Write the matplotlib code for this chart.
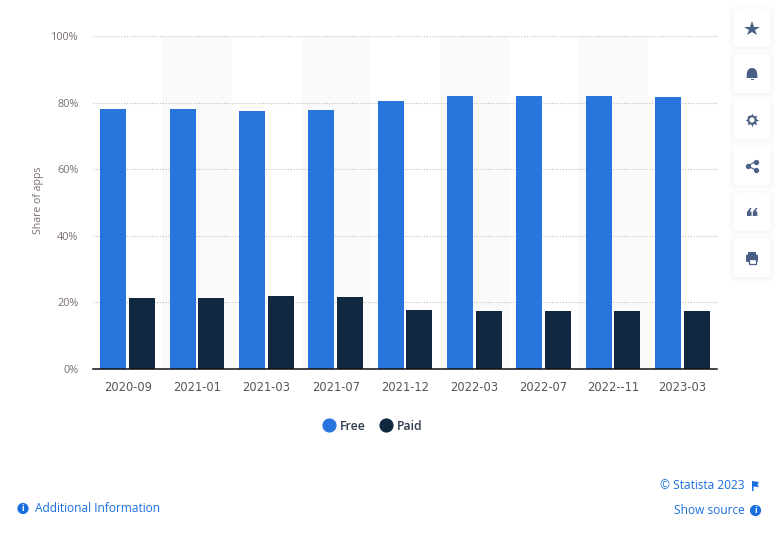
import matplotlib
matplotlib.use("Agg")
import matplotlib.pyplot as plt
from matplotlib.lines import Line2D
from matplotlib.patches import Circle, FancyBboxPatch, Polygon, Rectangle, Wedge

plt.rcParams["font.family"] = ["Open Sans", "DejaVu Sans"]

# Data
categories = ["2020-09", "2021-01", "2021-03", "2021-07", "2021-12",
              "2022-03", "2022-07", "2022--11", "2023-03"]
free = [78.1, 78.1, 77.5, 77.9, 80.5, 82.0, 82.0, 82.0, 81.7]
paid = [21.3, 21.3, 21.9, 21.6, 17.7, 17.5, 17.5, 17.5, 17.5]
y_ticks = [0, 20, 40, 60, 80, 100]

BLUE = "#2876dd"
NAVY = "#10283f"
TEXT = "#7a6f6f"
LINK = "#1a6fe0"
ICON = "#4a5f85"

W, H = 782, 538
fig = plt.figure(figsize=(W / 100, H / 100), dpi=100)

# Main chart, placed in pixel terms
ax = fig.add_axes([93 / W, 1 - 369 / H, 624 / W, 333 / H])
x = list(range(len(categories)))
bar_w = 0.375
off = 0.209

for i in x:
    if i % 2 == 1:
        ax.axvspan(i - 0.5, i + 0.5, color="#fafafa", lw=0, zorder=0)

ax.bar([i - off for i in x], free, bar_w, color=BLUE, zorder=3)
ax.bar([i + off for i in x], paid, bar_w, color=NAVY, zorder=3)

ax.set_xlim(-0.5, 8.5)
ax.set_ylim(0, 100)
ax.set_xticks(x)
ax.set_xticklabels(categories, fontsize=8.3, color="#555555", family="DejaVu Sans")
ax.set_yticks(y_ticks)
ax.set_yticklabels([f"{v}%" for v in y_ticks], fontsize=7.8, color=TEXT)
ax.tick_params(axis="x", length=0, pad=8.5)
ax.tick_params(axis="y", length=0, pad=10.5)
ax.grid(axis="y", color="#bdbdbd", linestyle=(0, (1, 1.5)), linewidth=0.8, zorder=1)
for s in ["top", "left", "right"]:
    ax.spines[s].set_visible(False)
ax.spines["bottom"].set_color("#111111")
ax.spines["bottom"].set_linewidth(1.1)
ax.spines["bottom"].set_zorder(5)
ax.set_axisbelow(True)
ax.patch.set_alpha(0)

handles = [Line2D([], [], marker="o", ls="", ms=9.2, color=BLUE, label="Free"),
           Line2D([], [], marker="o", ls="", ms=9.2, color=NAVY, label="Paid")]
fig.legend(handles=handles, loc="center", bbox_to_anchor=(372 / W, 1 - 426 / H),
           ncol=2, frameon=False, prop={"size": 8.8, "weight": "semibold"}, labelcolor="#2f3b4d",
           columnspacing=1.1, handletextpad=0.3, handlelength=1.2)

fig.text(38 / W, 1 - 200 / H, "Share of apps", rotation=90, ha="center", va="center",
         fontsize=7.6, color=TEXT)

# Overlay in pixel coordinates for the page furniture
ov = fig.add_axes([0, 0, 1, 1], zorder=10)
ov.set_xlim(0, W)
ov.set_ylim(H, 0)
ov.axis("off")
ov.patch.set_alpha(0)

button_y = [28, 74, 120, 166, 212, 258]
for cy in button_y:
    for grow, alpha in [(4, 0.006), (2.5, 0.01), (1, 0.016)]:
        ov.add_patch(FancyBboxPatch((733 - grow, cy - 19 - grow + 1), 38 + 2 * grow, 38 + 2 * grow,
                                    boxstyle="round,pad=0,rounding_size=5", fc="#40406a", ec="none", alpha=alpha))
    ov.add_patch(FancyBboxPatch((733, cy - 19), 38, 38, boxstyle="round,pad=0,rounding_size=4",
                                fc="white", ec="none"))

cx = 752
# star
ov.plot(cx, 28.5, marker="*", ms=11.5, color=ICON, mew=0)
# bell
ov.add_patch(Wedge((cx, 73), 5, 180, 360, fc=ICON, ec="none"))
ov.add_patch(Polygon([(747, 72), (757, 72), (757.5, 78), (746.5, 78)], fc=ICON, ec="none"))
ov.add_patch(Rectangle((750.5, 79), 3, 1, fc=ICON, ec="none"))
# gear
ov.plot(cx, 120, marker=(8, 1, 0), ms=10, color=ICON, mew=0)
ov.add_patch(Circle((cx, 120), 4.7, fc=ICON, ec="none", zorder=4))
ov.add_patch(Circle((cx, 120), 2.6, fc="white", ec="none", zorder=5))
# share
ov.plot([755.5, 747.5, 755.5], [161.7, 165.8, 170], color=ICON, lw=0.8)
ov.plot([755.5, 747.5, 755.5], [161.7, 165.8, 170], ls="", marker="o", ms=3.8, color=ICON, mew=0)
# quotes
for qx in [747, 752.8]:
    ov.add_patch(Polygon([(qx, 216), (qx + 4.5, 216), (qx + 4.5, 211.5), (qx + 2.8, 211.5),
                          (qx + 4.5, 208), (qx + 3, 208), (qx, 212)], fc=ICON, ec="none"))
# printer
ov.add_patch(FancyBboxPatch((746, 254.5), 12, 7.5, boxstyle="round,pad=0,rounding_size=1.5", fc=ICON, ec="none"))
ov.add_patch(Rectangle((748, 252), 8, 3, fc=ICON, ec="none"))
ov.add_patch(Rectangle((748.5, 258.5), 7, 5, fc="white", ec=ICON, lw=0.9))


def info_icon(px, py):
    ov.add_patch(Circle((px, py), 5.6, fc=LINK, ec="none"))
    ov.text(px, py + 0.2, "i", color="white", fontsize=6.5, fontweight="bold", ha="center", va="center")


info_icon(23, 508.5)
info_icon(755.5, 510.5)
ov.text(35, 508.5, "Additional Information", color=LINK, fontsize=8.6, ha="left", va="center")
ov.text(744.5, 485.5, "© Statista 2023", color=LINK, fontsize=8.6, ha="right", va="center")
ov.text(744.5, 510.5, "Show source", color=LINK, fontsize=8.6, ha="right", va="center")
# flag
ov.add_patch(Polygon([(752, 481), (759, 482), (757.5, 484.5), (759, 487), (753.5, 486.5),
                      (753.5, 491), (752, 491)], fc=LINK, ec="none"))

fig.savefig("out.png", dpi=100)
